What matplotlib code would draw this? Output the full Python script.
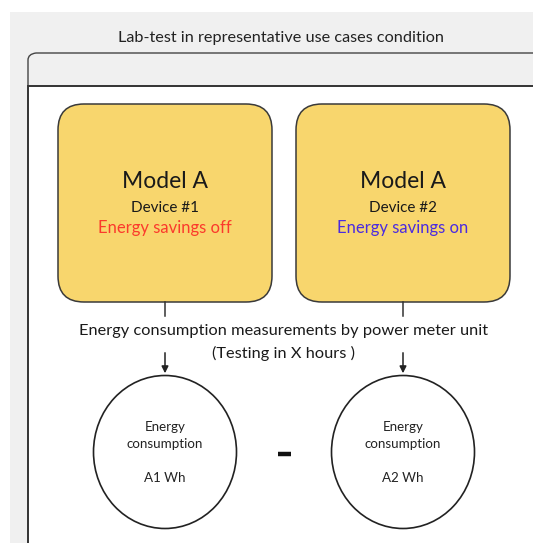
import matplotlib
matplotlib.use("Agg")
import matplotlib.pyplot as plt
from matplotlib.patches import FancyBboxPatch, Ellipse, Rectangle
from matplotlib.path import Path
from matplotlib.patches import PathPatch

title = "Lab-test in representative use cases condition"
models = ["Model A", "Model A"]
devices = ["Device #1", "Device #2"]
modes = ["Energy savings off", "Energy savings on"]
mode_colors = ["#fb3a2c", "#4b2be0"]
measure_lines = ["Energy consumption measurements by power meter unit", "(Testing in X hours )"]
circle_labels = ["A1 Wh", "A2 Wh"]

FONT = ["Lato", "DejaVu Sans"]
W, H = 533, 543
fig = plt.figure(figsize=(W / 100, H / 100), dpi=100)
ax = fig.add_axes([0, 0, 1, 1])
ax.set_xlim(0, W)
ax.set_ylim(H, 0)
ax.axis("off")

# gray background panel
ax.add_patch(Rectangle((10, 12), W, H, facecolor="#f0f0f0", edgecolor="none", zorder=0))
ax.text(281, 38, title, ha="center", va="center", fontsize=11.7, family=FONT, color="#222222")

# tab outline
verts = [(28, 86), (28, 60), (28, 54), (36, 53), (W + 5, 53)]
codes = [Path.MOVETO, Path.LINETO, Path.CURVE3, Path.CURVE3, Path.LINETO]
ax.add_patch(PathPatch(Path(verts, codes), facecolor="none", edgecolor="#444444", lw=1.0, zorder=1))
# white panel
ax.add_patch(Rectangle((28, 86), W, H, facecolor="white", edgecolor="#333333", lw=1.4, zorder=1))

box_x = [58, 296]
box_w = 214
box_y, box_h = 104, 198
centers = []
for i in range(2):
    cx = box_x[i] + box_w / 2
    centers.append(cx)
    ax.add_patch(FancyBboxPatch((box_x[i] + 26, box_y + 26), box_w - 52, box_h - 52,
                                boxstyle="round,pad=26", facecolor="#f8d66d",
                                edgecolor="#3a3a3a", lw=1.1, zorder=2))
    ax.text(cx, 182, models[i], ha="center", va="center", fontsize=16.5, family=FONT, color="#1a1a1a", zorder=3)
    ax.text(cx, 208, devices[i], ha="center", va="center", fontsize=11, family=FONT, color="#1a1a1a", zorder=3)
    ax.text(cx, 228, modes[i], ha="center", va="center", fontsize=12, family=FONT, color=mode_colors[i], zorder=3)
    # connector line
    ax.plot([cx, cx], [box_y + box_h, 316], color="#333333", lw=1.1, zorder=2)
    ax.annotate("", xy=(cx, 376), xytext=(cx, 350),
                arrowprops=dict(arrowstyle="-|>", color="#222222", lw=1.1, mutation_scale=10), zorder=2)
    ax.add_patch(Ellipse((cx, 452), 143, 153, facecolor="white", edgecolor="#222222", lw=1.2, zorder=2))
    ax.text(cx, 427, "Energy", ha="center", va="center", fontsize=9.6, family=FONT, color="#222222", zorder=3)
    ax.text(cx, 444, "consumption", ha="center", va="center", fontsize=9.6, family=FONT, color="#222222", zorder=3)
    ax.text(cx, 478, circle_labels[i], ha="center", va="center", fontsize=9.6, family=FONT, color="#222222", zorder=3)

ax.text(284, 331, measure_lines[0], ha="center", va="center", fontsize=11.8, family=FONT, color="#1a1a1a")
ax.text(284, 353, measure_lines[1], ha="center", va="center", fontsize=11.8, family=FONT, color="#1a1a1a")

# minus sign
ax.plot([278, 291], [454, 454], color="#111111", lw=3.2, solid_capstyle="butt", zorder=3)

fig.savefig("out.png", dpi=100)
